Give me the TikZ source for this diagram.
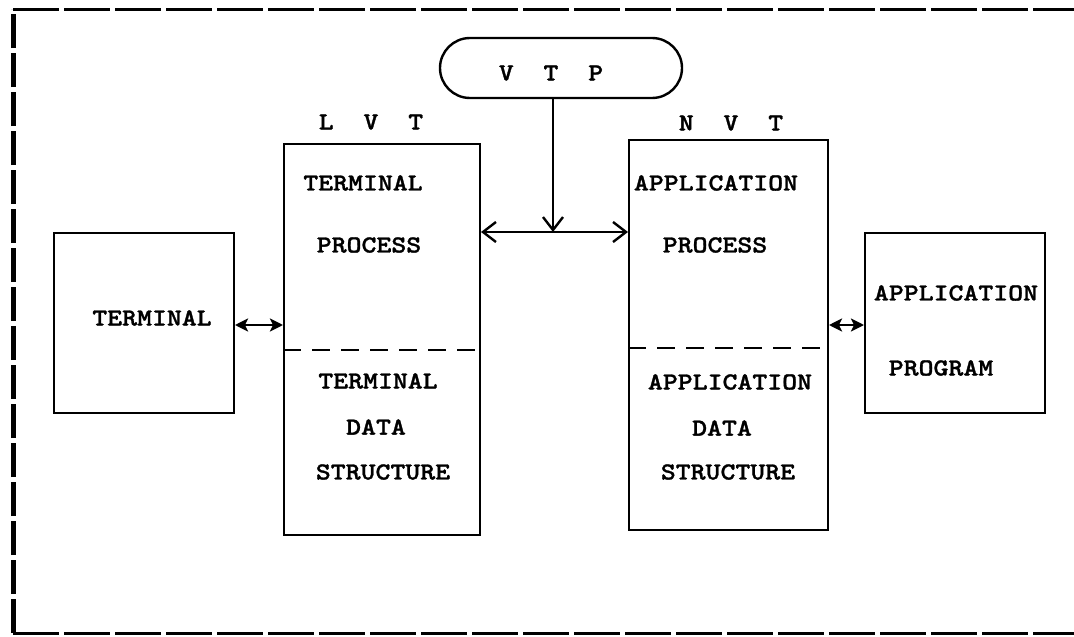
\documentclass[tikz,border=0pt]{standalone}
\usepackage{fontspec}
\newfontfamily\diagmono{lmmonolt10-bold}[Extension=.otf, FakeStretch=1.16, FakeBold=1.2]
\usetikzlibrary{arrows.meta}
\newcommand\twosp{\hspace{29.8pt}}
\begin{document}
\begin{tikzpicture}[x=1pt,y=-1pt,
  box/.style={draw, line width=2pt, inner sep=0pt, anchor=north west},
  lbl/.style={inner sep=0pt, font=\diagmono\fontsize{24.5}{28}\selectfont},
  divider/.style={line width=2pt, dash pattern=on 18pt off 11pt},
  framev/.style={line width=5pt, dash pattern=on 34pt off 5pt},
  frameh/.style={line width=3pt, dash pattern=on 46pt off 5pt},
  barbone/.style={line width=2pt, arrows={-Straight Barb[length=13pt,width=20pt,line width=2.4pt]}},
  barbs/.style={line width=2pt, arrows={Straight Barb[length=13pt,width=20pt,line width=2.4pt]-Straight Barb[length=13pt,width=20pt,line width=2.4pt]}},
  shortarr/.style={line width=2.8pt, arrows={Stealth[length=13pt,width=13pt,inset=3pt]-Stealth[length=13pt,width=13pt,inset=3pt]}}
]
\useasboundingbox (0,0) rectangle (1074,637);
\fill[white] (0,0) rectangle (1074,637);

% frame
\coordinate (ftl) at (13,9);
\coordinate (fbl) at (13,633);
\coordinate (ftr) at (1074,9);
\coordinate (fbr) at (1074,633);
\draw[framev] (fbl) -- (ftl);
\draw[frameh] (ftl) -- (ftr);
\draw[frameh] (fbl) -- (fbr);

% boxes
\node[box, minimum width=180pt, minimum height=180pt] (term) at (53,232) {};
\node[box, minimum width=196pt, minimum height=391pt] (lvt) at (283,143) {};
\node[box, minimum width=199pt, minimum height=390pt] (nvt) at (628,139) {};
\node[box, minimum width=180pt, minimum height=180pt] (app) at (864,232) {};
\node[draw, line width=2.4pt, rounded corners=30pt, minimum width=242pt, minimum height=60pt, inner sep=0pt] (vtp) at (561,68) {};

% dividers
\draw[divider] (lvt.west |- 0,350) -- (lvt.east |- 0,350);
\draw[divider] (nvt.west |- 0,348) -- (nvt.east |- 0,348);

% labels
\node[lbl] (vtptxt) at (551,73) {V\twosp T\twosp P};
\node[lbl] (lvttxt) at (371,122) {L\twosp V\twosp T};
\node[lbl] (nvttxt) at (731,123) {N\twosp V\twosp T};

\node[lbl] (termtxt) at (152,318) {TERMINAL};

\node[lbl] (tp1) at (363,183) {TERMINAL};
\node[lbl] (tp2) at (369,245) {PROCESS};
\node[lbl] (td1) at (378,381) {TERMINAL};
\node[lbl] (td2) at (376,427) {DATA};
\node[lbl] (td3) at (383,472) {STRUCTURE};

\node[lbl] (ap1) at (716,183) {APPLICATION};
\node[lbl] (ap2) at (715,245) {PROCESS};
\node[lbl] (ad1) at (730,382) {APPLICATION};
\node[lbl] (ad2) at (722,428) {DATA};
\node[lbl] (ad3) at (728,472) {STRUCTURE};

\node[lbl] (pg1) at (956,293) {APPLICATION};
\node[lbl] (pg2) at (941,368) {PROGRAM};

% connectors
\coordinate (j) at (553,232);
\draw[barbone] (vtp.south -| j) -- (j);
\draw[barbs] (j -| lvt.east) -- (j -| nvt.west);
\draw[shortarr] (term.east |- 0,325) -- (lvt.west |- 0,325);
\draw[shortarr] (nvt.east |- 0,325) -- (app.west |- 0,325);
\end{tikzpicture}
\end{document}
